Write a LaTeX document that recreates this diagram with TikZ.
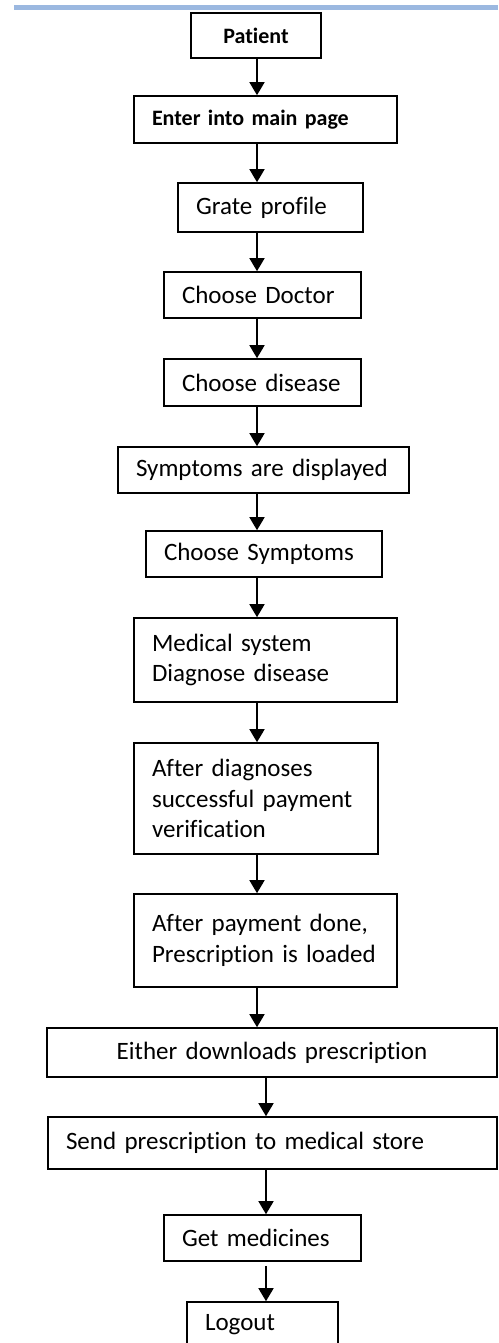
\documentclass[tikz,border=0pt]{standalone}
\usepackage{fontspec}
\setmainfont{Carlito}[Ligatures=NoCommon]
\usetikzlibrary{arrows.meta}
\definecolor{rulerblue}{HTML}{9BB8E0}
\tikzset{
  box/.style={draw, line width=1.6pt, rectangle, inner xsep=18pt, inner ysep=0pt,
    align=left, font=\fontsize{25}{30.5}\selectfont},
  topbox/.style={box, font=\fontsize{22}{26}\selectfont\bfseries},
  flow/.style={line width=1.6pt, -{Triangle[width=15pt,length=13pt]}}
}
\begin{document}
\begin{tikzpicture}[x=1pt,y=-1pt]
\useasboundingbox (0,0) rectangle (498,1343);
\fill[white] (0,0) rectangle (498,1343);
\draw[rulerblue, line width=5pt] (14,7.5) -- (498,7.5);

\coordinate (ax) at (257,0);
\coordinate (bx) at (266,0);

\node[topbox, align=center, text width=94pt, minimum height=45pt] (b1) at (256,35.5) {Patient};
\node[topbox, text width=227pt, minimum height=47pt] (b2) at (265.5,119.5) {Enter into main page};
\node[box, text width=149pt, minimum height=49pt] (b3) at (270.5,207.5) {Grate profile};
\node[box, text width=161pt, minimum height=46pt] (b4) at (262.5,295) {Choose Doctor};
\node[box, text width=161pt, minimum height=47pt] (b5) at (262.5,382.5) {Choose disease};
\node[box, text width=255pt, minimum height=46pt] (b6) at (263.5,470) {Symptoms are displayed};
\node[box, text width=200pt, minimum height=46pt] (b7) at (264,554) {Choose Symptoms};
\node[box, text width=227pt, minimum height=84pt] (b8) at (265.5,660) {Medical system\\Diagnose disease};
\node[box, text width=208pt, minimum height=111pt] (b9) at (256,798.5) {After diagnoses\\successful payment\\verification};
\node[box, text width=227pt, minimum height=93pt] (b10) at (265.5,940.5) {After payment done,\\Prescription is loaded};
\node[box, align=center, text width=414pt, minimum height=49pt] (b11) at (272,1052.5) {Either downloads prescription};
\node[box, text width=413pt, minimum height=52pt] (b12) at (272.5,1143) {Send prescription to medical store};
\node[box, text width=161pt, minimum height=46pt] (b13) at (262.5,1238) {Get medicines};
\node[box, text width=115pt, minimum height=46pt] (b14) at (262.5,1325) {Logout};

\draw[flow] (b1.south -| ax) -- (b2.north -| ax);
\draw[flow] (b2.south -| ax) -- (b3.north -| ax);
\draw[flow] (b3.south -| ax) -- (b4.north -| ax);
\draw[flow] (b4.south -| ax) -- (b5.north -| ax);
\draw[flow] (b5.south -| ax) -- (b6.north -| ax);
\draw[flow] (b6.south -| ax) -- (b7.north -| ax);
\draw[flow] (b7.south -| ax) -- (b8.north -| ax);
\draw[flow] (b8.south -| ax) -- (b9.north -| ax);
\draw[flow] (b9.south -| ax) -- (b10.north -| ax);
\draw[flow] (b10.south -| ax) -- (b11.north -| ax);
\draw[flow] (b11.south -| bx) -- (b12.north -| bx);
\draw[flow] (b12.south -| bx) -- (b13.north -| bx);
\draw[flow, shorten <=4pt] (b13.south -| bx) -- (b14.north -| bx);
\end{tikzpicture}
\end{document}
